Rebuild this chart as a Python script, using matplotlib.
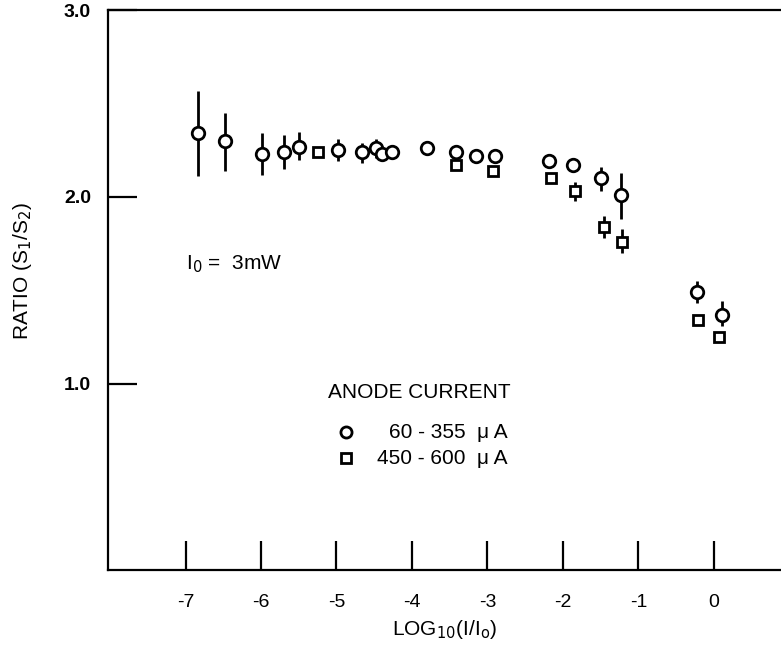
import matplotlib.pyplot as plt
import numpy as np

plt.rcParams['font.family'] = ['Liberation Sans', 'DejaVu Sans']

# anode current 60 - 355 uA (circles)
circ_x = [-6.83, -6.48, -5.98, -5.70, -5.50, -4.98, -4.66, -4.47, -4.40, -4.26,
          -3.80, -3.42, -3.15, -2.90, -2.18, -1.87, -1.50, -1.23, -0.22, 0.11]
circ_y = [2.34, 2.30, 2.23, 2.24, 2.27, 2.25, 2.24, 2.26, 2.23, 2.24,
          2.26, 2.24, 2.22, 2.22, 2.19, 2.17, 2.10, 2.01, 1.49, 1.37]
circ_lo = [2.11, 2.14, 2.12, 2.15, 2.20, 2.19, 2.18, 2.21, 2.23, 2.24,
           2.26, 2.24, 2.22, 2.22, 2.19, 2.17, 2.03, 1.88, 1.43, 1.31]
circ_hi = [2.57, 2.45, 2.34, 2.33, 2.35, 2.31, 2.29, 2.31, 2.23, 2.24,
           2.26, 2.24, 2.22, 2.22, 2.19, 2.17, 2.16, 2.13, 1.55, 1.44]

# anode current 450 - 600 uA (squares)
sq_x = [-5.24, -3.42, -2.92, -2.16, -1.84, -1.45, -1.22, -0.21, 0.07]
sq_y = [2.24, 2.17, 2.14, 2.10, 2.03, 1.84, 1.76, 1.34, 1.25]
sq_lo = [2.24, 2.17, 2.14, 2.10, 1.98, 1.78, 1.70, 1.34, 1.25]
sq_hi = [2.24, 2.17, 2.14, 2.10, 2.08, 1.90, 1.83, 1.34, 1.25]

x_ticks = [-7, -6, -5, -4, -3, -2, -1, 0]
y_ticks = [1.0, 2.0, 3.0]

fig = plt.figure(figsize=(7.81, 6.45), dpi=100)
ax = fig.add_axes([0.138, 0.116, 0.862, 0.868])

def plot_series(x, y, lo, hi, marker, ms):
    x = np.array(x)
    y = np.array(y)
    err = [y - np.array(lo), np.array(hi) - y]
    ax.errorbar(x, y, yerr=err, fmt=marker, ms=ms, mfc='white', mec='black',
                mew=2, ecolor='black', elinewidth=2, capsize=0, zorder=3)

plot_series(circ_x, circ_y, circ_lo, circ_hi, 'o', 9)
plot_series(sq_x, sq_y, sq_lo, sq_hi, 's', 7.5)

ax.set_xlim(-8.03, 0.89)
ax.set_ylim(0, 3.0)
ax.set_xticks(x_ticks)
ax.set_xticklabels([str(v) for v in x_ticks])
ax.set_yticks(y_ticks)
ax.set_yticklabels(['%.1f' % v for v in y_ticks])

ax.spines['right'].set_visible(False)
for s in ['left', 'top', 'bottom']:
    ax.spines[s].set_linewidth(1.6)

ax.tick_params(axis='x', direction='in', length=21, width=1.6, pad=17, labelsize=14)
ax.tick_params(axis='y', direction='in', length=21, width=1.6, pad=12, labelsize=14)
for lab in ax.get_yticklabels():
    lab.set_fontweight('bold')

ax.set_xlabel('LOG$_{10}$(I/I$_\\mathrm{o}$)', fontsize=15, labelpad=5)
ax.set_ylabel('RATIO (S$_1$/S$_2$)', fontsize=15, labelpad=20)
ax.yaxis.set_label_coords(-0.11, 0.535)

ax.text(-7.0, 1.64, 'I$_0$ =  3mW', fontsize=15, va='center', ha='left')

ax.text(-3.90, 0.95, 'ANODE CURRENT', fontsize=15, ha='center', va='center')
ax.plot([-4.87], [0.74], 'o', ms=8, mfc='white', mec='black', mew=2)
ax.plot([-4.87], [0.60], 's', ms=7, mfc='white', mec='black', mew=2)
ax.text(-2.73, 0.74, '60 - 355  \u03bc A', fontsize=15, ha='right', va='center')
ax.text(-2.73, 0.60, '450 - 600  \u03bc A', fontsize=15, ha='right', va='center')

fig.savefig('out.png', dpi=100)
